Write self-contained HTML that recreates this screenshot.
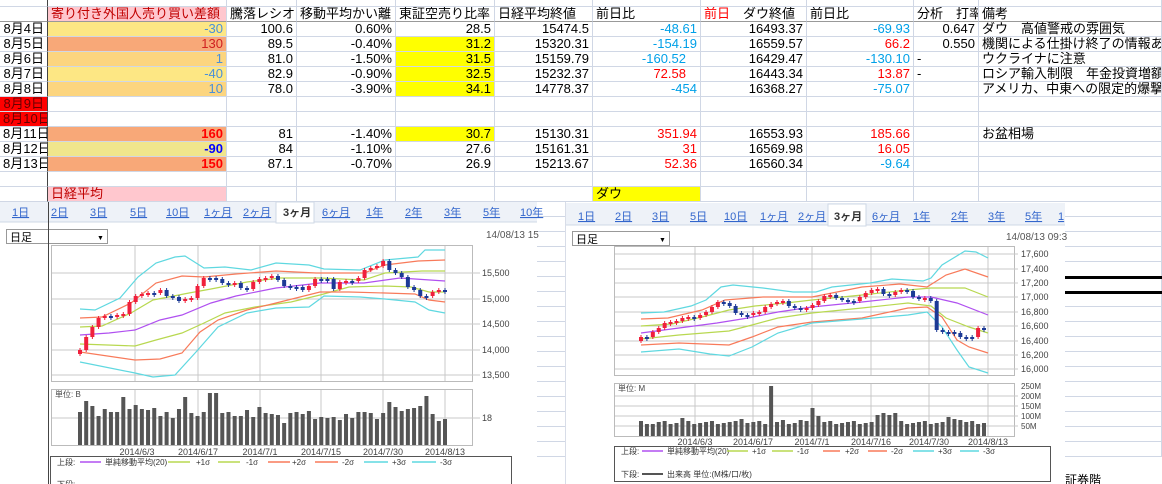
<!DOCTYPE html>
<html><head><meta charset="utf-8">
<style>
*{margin:0;padding:0}
body{width:1162px;height:484px;overflow:hidden;background:#fff;position:relative;font-family:"Liberation Sans","Noto Sans CJK JP",sans-serif}
table{position:absolute;left:0;top:0;border-collapse:separate;border-spacing:0;table-layout:fixed;width:1162px}
td{box-sizing:border-box;height:15px;border-right:1px solid #d0d7e5;border-bottom:1px solid #d0d7e5;padding:0 3px;overflow:hidden;white-space:nowrap;line-height:14px;font-size:13px;color:#000;text-align:right}
tr.top td{height:7px}
td.l{text-align:left}
td.a{border-right:1px solid #444}
tr.hd td{border-bottom:1px solid #999}
.pk{background:#ffc7ce;color:#c00000}
.yl{background:#ffff00}
.o1{background:#fde784}.o2{background:#f8a878}.o3{background:#fcd57f}.o4{background:#f0e68c}
.rd{background:#ff0000;color:#600}
.bl{color:#4a90d9}.br{color:#d02020}
.cy{color:#00a0e8}.re{color:#f00}
.b{font-weight:bold}
svg{position:absolute;left:0;top:0}
svg text{font-family:"Liberation Sans","Noto Sans CJK JP",sans-serif}
</style></head><body>
<table>
<colgroup><col style="width:48px"><col style="width:179px"><col style="width:70px"><col style="width:99px"><col style="width:99px"><col style="width:98px"><col style="width:108px"><col style="width:106px"><col style="width:107px"><col style="width:65px"><col style="width:183px"></colgroup>
<tr class="top"><td class="a"></td><td></td><td></td><td></td><td></td><td></td><td></td><td></td><td></td><td></td><td></td></tr>
<tr class="hd"><td class="a"></td><td class="l pk">寄り付き外国人売り買い差額</td><td class="l">騰落レシオ</td><td class="l">移動平均かい離</td><td class="l">東証空売り比率</td><td class="l">日経平均終値</td><td class="l">前日比</td><td class="l"><span style="color:#f00">前日</span>　ダウ終値</td><td class="l">前日比</td><td class="l">分析　打率</td><td class="l">備考</td></tr>
<tr><td class="a">8月4日</td><td class="o1 bl">-30</td><td>100.6</td><td>0.60%</td><td>28.5</td><td>15474.5</td><td class="cy">-48.61</td><td>16493.37</td><td class="cy">-69.93</td><td>0.647</td><td class="l">ダウ　高値警戒の雰囲気</td></tr>
<tr><td class="a">8月5日</td><td class="o2 br">130</td><td>89.5</td><td>-0.40%</td><td class="yl">31.2</td><td>15320.31</td><td class="cy">-154.19</td><td>16559.57</td><td class="re">66.2</td><td>0.550</td><td class="l">機関による仕掛け終了の情報あり。よ</td></tr>
<tr><td class="a">8月6日</td><td class="o3 bl">1</td><td>81.0</td><td>-1.50%</td><td class="yl">31.5</td><td>15159.79</td><td class="cy" style="padding-right:14px">-160.52</td><td>16429.47</td><td class="cy">-130.10</td><td class="l">-</td><td class="l">ウクライナに注意</td></tr>
<tr><td class="a">8月7日</td><td class="o1 bl">-40</td><td>82.9</td><td>-0.90%</td><td class="yl">32.5</td><td>15232.37</td><td class="re" style="padding-right:14px">72.58</td><td>16443.34</td><td class="re">13.87</td><td class="l">-</td><td class="l">ロシア輸入制限　年金投資増額の情</td></tr>
<tr><td class="a">8月8日</td><td class="o3 bl">10</td><td>78.0</td><td>-3.90%</td><td class="yl">34.1</td><td>14778.37</td><td class="cy">-454</td><td>16368.27</td><td class="cy">-75.07</td><td></td><td class="l">アメリカ、中東への限定的爆撃の承認</td></tr>
<tr><td class="a rd">8月9日</td><td></td><td></td><td></td><td></td><td></td><td></td><td></td><td></td><td></td><td></td></tr>
<tr><td class="a rd">8月10日</td><td></td><td></td><td></td><td></td><td></td><td></td><td></td><td></td><td></td><td></td></tr>
<tr><td class="a">8月11日</td><td class="o2 b" style="color:#f00">160</td><td>81</td><td>-1.40%</td><td class="yl">30.7</td><td>15130.31</td><td class="re">351.94</td><td>16553.93</td><td class="re">185.66</td><td></td><td class="l">お盆相場</td></tr>
<tr><td class="a">8月12日</td><td class="o4 b" style="color:#00f">-90</td><td>84</td><td>-1.10%</td><td>27.6</td><td>15161.31</td><td class="re">31</td><td>16569.98</td><td class="re">16.05</td><td></td><td></td></tr>
<tr><td class="a">8月13日</td><td class="o2 b" style="color:#f00">150</td><td>87.1</td><td>-0.70%</td><td>26.9</td><td>15213.67</td><td class="re">52.36</td><td>16560.34</td><td class="cy">-9.64</td><td></td><td></td></tr>
<tr><td class="a"></td><td></td><td></td><td></td><td></td><td></td><td></td><td></td><td></td><td></td><td></td></tr>
<tr><td class="a"></td><td class="l pk">日経平均</td><td></td><td></td><td></td><td></td><td class="l yl">ダウ</td><td></td><td></td><td></td><td></td></tr>
<tr><td class="a"></td><td></td><td></td><td></td><td></td><td></td><td></td><td></td><td></td><td></td><td></td></tr>
<tr><td class="a"></td><td></td><td></td><td></td><td></td><td></td><td></td><td></td><td></td><td></td><td></td></tr>
<tr><td class="a"></td><td></td><td></td><td></td><td></td><td></td><td></td><td></td><td></td><td></td><td></td></tr>
<tr><td class="a"></td><td></td><td></td><td></td><td></td><td></td><td></td><td></td><td></td><td></td><td></td></tr>
<tr><td class="a"></td><td></td><td></td><td></td><td></td><td></td><td></td><td></td><td></td><td></td><td></td></tr>
<tr><td class="a"></td><td></td><td></td><td></td><td></td><td></td><td></td><td></td><td></td><td></td><td></td></tr>
<tr><td class="a"></td><td></td><td></td><td></td><td></td><td></td><td></td><td></td><td></td><td></td><td></td></tr>
<tr><td class="a"></td><td></td><td></td><td></td><td></td><td></td><td></td><td></td><td></td><td></td><td></td></tr>
<tr><td class="a"></td><td></td><td></td><td></td><td></td><td></td><td></td><td></td><td></td><td></td><td></td></tr>
<tr><td class="a"></td><td></td><td></td><td></td><td></td><td></td><td></td><td></td><td></td><td></td><td></td></tr>
<tr><td class="a"></td><td></td><td></td><td></td><td></td><td></td><td></td><td></td><td></td><td></td><td></td></tr>
<tr><td class="a"></td><td></td><td></td><td></td><td></td><td></td><td></td><td></td><td></td><td></td><td></td></tr>
<tr><td class="a"></td><td></td><td></td><td></td><td></td><td></td><td></td><td></td><td></td><td></td><td></td></tr>
<tr><td class="a"></td><td></td><td></td><td></td><td></td><td></td><td></td><td></td><td></td><td></td><td></td></tr>
<tr><td class="a"></td><td></td><td></td><td></td><td></td><td></td><td></td><td></td><td></td><td></td><td></td></tr>
<tr><td class="a"></td><td></td><td></td><td></td><td></td><td></td><td></td><td></td><td></td><td></td><td></td></tr>
<tr><td class="a"></td><td></td><td></td><td></td><td></td><td></td><td></td><td></td><td></td><td></td><td></td></tr>
</table>

<svg width="1162" height="484" viewBox="0 0 1162 484" id="s">
<!-- LEFT widget -->
<rect x="0" y="202" width="537" height="282" fill="#fff"/>
<rect x="0" y="202" width="537" height="20" fill="#eef2f8"/>
<line x1="0" y1="222" x2="537" y2="222" stroke="#cfd8e6"/>
<rect x="276" y="202" width="38" height="21" fill="#fff" stroke="#cfd8e6"/>
<g font-size="11" fill="#3366cc" text-decoration="underline">
<text x="12" y="216">1日</text><text x="51" y="216">2日</text><text x="90" y="216">3日</text><text x="130" y="216">5日</text><text x="166" y="216">10日</text><text x="204" y="216">1ヶ月</text><text x="243" y="216">2ヶ月</text><text x="322" y="216">6ヶ月</text><text x="366" y="216">1年</text><text x="405" y="216">2年</text><text x="444" y="216">3年</text><text x="483" y="216">5年</text><text x="520" y="216">10年</text>
</g>
<text x="283" y="216" font-size="11" font-weight="bold" fill="#333">3ヶ月</text>
<rect x="6.5" y="229.5" width="101" height="14" fill="#fff" stroke="#999"/>
<text x="10" y="241" font-size="11">日足</text><text x="97" y="240" font-size="7">▼</text>
<text x="486" y="238" font-size="10" fill="#555">14/08/13 15</text>
<rect x="51.5" y="245.5" width="421" height="136" fill="#fff" stroke="#bbb"/>
<g stroke="#c8c8c8"><line x1="52" y1="273" x2="480" y2="273"/><line x1="52" y1="299" x2="480" y2="299"/><line x1="52" y1="324" x2="480" y2="324"/><line x1="52" y1="350" x2="480" y2="350"/><line x1="52" y1="375" x2="480" y2="375"/>
<line x1="135" y1="246" x2="135" y2="381"/><line x1="198" y1="246" x2="198" y2="381"/><line x1="260" y1="246" x2="260" y2="381"/><line x1="321" y1="246" x2="321" y2="381"/><line x1="383" y1="246" x2="383" y2="381"/><line x1="445" y1="246" x2="445" y2="381"/></g>
<g font-size="9" fill="#444"><text x="482" y="276">15,500</text><text x="482" y="302">15,000</text><text x="482" y="327">14,500</text><text x="482" y="353">14,000</text><text x="482" y="378">13,500</text></g>
<g fill="none" stroke-width="1.2">
<polyline stroke="#5fd8e0" points="80,309 95,310 120,298 138,277 156,263 175,257 185,256 204,268 225,267 251,270 276,263 309,265 324,269 360,270 385,260 418,257 425,250 445,250"/>
<polyline stroke="#f87a5a" points="80,318 102,317 131,303 156,283 182,276 204,277 236,274 276,271 316,273 364,273 385,265 418,261 445,260"/>
<polyline stroke="#b8d850" points="80,327 102,326 131,313 153,300 189,293 211,289 247,282 280,278 320,278 364,280 385,273 422,271 445,271"/>
<polyline stroke="#b050f0" points="80,335 109,333 135,330 160,320 182,315 211,303 236,296 276,288 320,283 364,283 400,278 445,281"/>
<polyline stroke="#b8d850" points="80,344 135,346 156,340 182,333 204,323 225,313 255,307 291,302 320,295 349,287 385,286 411,287 429,292 445,292"/>
<polyline stroke="#f87a5a" points="80,352 135,360 160,359 182,353 200,332 218,320 247,310 276,303 320,292 349,292 385,293 415,294 429,300 445,302"/>
<polyline stroke="#5fd8e0" points="80,362 135,373 153,377 175,375 196,352 218,327 247,313 276,308 309,307 324,296 360,297 385,299 415,302 429,310 445,313"/>
</g>
<g id="lc"></g>
<rect x="51.5" y="389.5" width="421" height="56" fill="none" stroke="#bbb"/>
<line x1="52" y1="418" x2="480" y2="418" stroke="#c8c8c8"/>
<g stroke="#c8c8c8"><line x1="135" y1="390" x2="135" y2="445"/><line x1="198" y1="390" x2="198" y2="445"/><line x1="260" y1="390" x2="260" y2="445"/><line x1="321" y1="390" x2="321" y2="445"/><line x1="383" y1="390" x2="383" y2="445"/><line x1="445" y1="390" x2="445" y2="445"/></g>
<text x="55" y="397" font-size="8" fill="#444">単位: B</text>
<text x="482" y="421" font-size="9" fill="#444">18</text>
<g id="lv"></g>
<g font-size="9" fill="#444" text-anchor="middle"><text x="137" y="455">2014/6/3</text><text x="198" y="455">2014/6/17</text><text x="260" y="455">2014/7/1</text><text x="321" y="455">2014/7/15</text><text x="383" y="455">2014/7/30</text><text x="445" y="455">2014/8/13</text></g>
<rect x="50.5" y="456.5" width="461" height="30" fill="#fff" stroke="#555"/>
<g font-size="8" fill="#333"><text x="57" y="465">上段:</text><text x="105" y="465">単純移動平均(20)</text><text x="196" y="465">+1σ</text><text x="246" y="465">-1σ</text><text x="292" y="465">+2σ</text><text x="342" y="465">-2σ</text><text x="392" y="465">+3σ</text><text x="440" y="465">-3σ</text><text x="57" y="487">下段:</text></g>
<g stroke-width="1.5"><line x1="80" y1="462" x2="101" y2="462" stroke="#b050f0"/><line x1="168" y1="462" x2="190" y2="462" stroke="#b8d850"/><line x1="218" y1="462" x2="240" y2="462" stroke="#b8d850"/><line x1="268" y1="462" x2="290" y2="462" stroke="#f87a5a"/><line x1="315" y1="462" x2="338" y2="462" stroke="#f87a5a"/><line x1="364" y1="462" x2="388" y2="462" stroke="#5fd8e0"/><line x1="412" y1="462" x2="436" y2="462" stroke="#5fd8e0"/></g>
<line x1="48.5" y1="202" x2="48.5" y2="484" stroke="#444"/>

<!-- RIGHT widget -->
<rect x="565" y="202" width="500" height="282" fill="#fff"/>
<line x1="565.5" y1="202" x2="565.5" y2="484" stroke="#d8dde8"/>
<rect x="566" y="203" width="499" height="22" fill="#eef2f8"/>
<line x1="566" y1="225" x2="1065" y2="225" stroke="#cfd8e6"/>
<rect x="828" y="204" width="38" height="22" fill="#fff" stroke="#cfd8e6"/>
<g font-size="11" fill="#3366cc" text-decoration="underline">
<text x="578" y="220">1日</text><text x="615" y="220">2日</text><text x="652" y="220">3日</text><text x="690" y="220">5日</text><text x="724" y="220">10日</text><text x="760" y="220">1ヶ月</text><text x="798" y="220">2ヶ月</text><text x="872" y="220">6ヶ月</text><text x="913" y="220">1年</text><text x="951" y="220">2年</text><text x="988" y="220">3年</text><text x="1025" y="220">5年</text><text x="1058" y="220">1</text>
</g>
<text x="834" y="220" font-size="11" font-weight="bold" fill="#333">3ヶ月</text>
<rect x="572.5" y="231.5" width="97" height="14" fill="#fff" stroke="#999"/>
<text x="576" y="243" font-size="11">日足</text><text x="659" y="242" font-size="7">▼</text>
<text x="1006" y="240" font-size="10" fill="#555">14/08/13 09:3</text>
<rect x="614.5" y="246.5" width="400" height="129" fill="#fff" stroke="#bbb"/>
<g stroke="#c8c8c8"><line x1="615" y1="254" x2="1018" y2="254"/><line x1="615" y1="269" x2="1018" y2="269"/><line x1="615" y1="283" x2="1018" y2="283"/><line x1="615" y1="297" x2="1018" y2="297"/><line x1="615" y1="312" x2="1018" y2="312"/><line x1="615" y1="326" x2="1018" y2="326"/><line x1="615" y1="341" x2="1018" y2="341"/><line x1="615" y1="355" x2="1018" y2="355"/><line x1="615" y1="369" x2="1018" y2="369"/>
<line x1="695" y1="247" x2="695" y2="375"/><line x1="753" y1="247" x2="753" y2="375"/><line x1="812" y1="247" x2="812" y2="375"/><line x1="871" y1="247" x2="871" y2="375"/><line x1="929" y1="247" x2="929" y2="375"/><line x1="988" y1="247" x2="988" y2="375"/></g>
<g font-size="9" fill="#444"><text x="1021" y="257">17,600</text><text x="1021" y="272">17,400</text><text x="1021" y="286">17,200</text><text x="1021" y="300">17,000</text><text x="1021" y="315">16,800</text><text x="1021" y="329">16,600</text><text x="1021" y="344">16,400</text><text x="1021" y="358">16,200</text><text x="1021" y="372">16,000</text></g>
<g fill="none" stroke-width="1.2">
<polyline stroke="#5fd8e0" points="641,313 664,312 691,306 706,300 721,287 733,285 763,288 793,292 816,292 832,287 870,283 892,279 923,281 931,278 942,265 965,251 976,252 988,258"/>
<polyline stroke="#f87a5a" points="641,319 668,318 702,310 725,300 763,297 812,297 862,287 900,284 927,287 946,275 965,269 988,277"/>
<polyline stroke="#b8d850" points="641,326 672,324 702,317 729,310 755,306 786,303 812,300 862,295 908,290 931,288 965,288 988,297"/>
<polyline stroke="#b050f0" points="641,333 679,328 717,323 748,318 778,312 812,307 862,302 908,297 931,297 957,303 988,315"/>
<polyline stroke="#b8d850" points="641,339 679,335 729,331 752,325 778,318 812,313 862,308 908,303 931,306 946,318 969,327 988,333"/>
<polyline stroke="#f87a5a" points="641,345 679,343 729,345 752,337 778,327 812,322 862,318 908,308 927,307 942,317 957,340 969,347 988,353"/>
<polyline stroke="#5fd8e0" points="641,352 679,349 710,354 729,356 752,347 778,333 812,323 862,319 908,315 927,312 942,327 957,350 969,367 988,373"/>
</g>
<g id="rc"></g>
<rect x="614.5" y="383.5" width="400" height="53" fill="none" stroke="#bbb"/>
<g stroke="#c8c8c8"><line x1="615" y1="396" x2="1018" y2="396"/><line x1="615" y1="406" x2="1018" y2="406"/><line x1="615" y1="416" x2="1018" y2="416"/><line x1="615" y1="426" x2="1018" y2="426"/>
<line x1="695" y1="384" x2="695" y2="436"/><line x1="753" y1="384" x2="753" y2="436"/><line x1="812" y1="384" x2="812" y2="436"/><line x1="871" y1="384" x2="871" y2="436"/><line x1="929" y1="384" x2="929" y2="436"/><line x1="988" y1="384" x2="988" y2="436"/></g>
<text x="618" y="391" font-size="8" fill="#444">単位: M</text>
<g font-size="8" fill="#444"><text x="1021" y="389">250M</text><text x="1021" y="399">200M</text><text x="1021" y="409">150M</text><text x="1021" y="419">100M</text><text x="1021" y="429">50M</text></g>
<g id="rv"></g>
<g font-size="9" fill="#444" text-anchor="middle"><text x="695" y="445">2014/6/3</text><text x="753" y="445">2014/6/17</text><text x="812" y="445">2014/7/1</text><text x="871" y="445">2014/7/16</text><text x="929" y="445">2014/7/30</text><text x="988" y="445">2014/8/13</text></g>
<rect x="614.5" y="446.5" width="436" height="35" fill="#fff" stroke="#555"/>
<g font-size="8" fill="#333"><text x="621" y="454">上段:</text><text x="667" y="454">単純移動平均(20)</text><text x="752" y="454">+1σ</text><text x="797" y="454">-1σ</text><text x="845" y="454">+2σ</text><text x="891" y="454">-2σ</text><text x="938" y="454">+3σ</text><text x="983" y="454">-3σ</text><text x="621" y="477">下段:</text><text x="667" y="477">出来高 単位:(M株/口/枚)</text></g>
<g stroke-width="1.5"><line x1="642" y1="451" x2="663" y2="451" stroke="#b050f0"/><line x1="727" y1="451" x2="748" y2="451" stroke="#b8d850"/><line x1="772" y1="451" x2="793" y2="451" stroke="#b8d850"/><line x1="823" y1="451" x2="840" y2="451" stroke="#f87a5a"/><line x1="868" y1="451" x2="887" y2="451" stroke="#f87a5a"/><line x1="913" y1="451" x2="934" y2="451" stroke="#5fd8e0"/><line x1="960" y1="451" x2="979" y2="451" stroke="#5fd8e0"/><line x1="642" y1="474" x2="663" y2="474" stroke="#555" stroke-width="2"/></g>
<rect x="1065" y="276" width="97" height="3" fill="#000"/>
<rect x="1065" y="291" width="97" height="3" fill="#000"/>
<text x="1065" y="484" font-size="12" fill="#000">証券階</text>
</svg>
<script>
(function(){
var NS="http://www.w3.org/2000/svg";
function el(g,t,a){var e=document.createElementNS(NS,t);for(var k in a)e.setAttribute(k,a[k]);g.appendChild(e);}
function candles(id,ys,x0,x1,w){var g=document.getElementById(id),n=ys.length,st=(x1-x0)/(n-1);
for(var i=0;i<n;i++){var x=x0+i*st,p=i?ys[i-1]:ys[i]+4,c=ys[i];var up=c<p;var top=Math.min(p,c),h=Math.max(2,Math.abs(p-c));
var col=up?"#f0203c":"#1c3a96";
el(g,"line",{x1:x,y1:top-2,x2:x,y2:top+h+2,stroke:col,"stroke-width":1});
el(g,"rect",{x:x-w/2,y:top,width:w,height:h,fill:col});}}
candles("lc",[350,337,327,318,316,316,315,314,302,296,294,293,293,290,296,297,301,299,298,286,278,278,279,283,284,283,288,289,282,279,278,276,280,286,287,287,290,286,279,279,279,289,282,281,281,278,270,268,266,261,270,273,277,287,290,296,296,292,290,290],80,445,4);
candles("rc",[337,337,332,328,323,322,321,318,317,318,315,312,307,302,303,306,313,315,315,313,312,307,304,302,301,306,308,309,308,305,301,296,295,298,300,301,301,297,293,290,289,294,295,292,290,291,297,299,298,301,330,332,332,333,337,337,337,328,328],641,984,4);
function vols(id,ts,x0,x1,b,w){var g=document.getElementById(id),n=ts.length,st=(x1-x0)/(n-1);
for(var i=0;i<n;i++)el(g,"rect",{x:x0+i*st-w/2,y:ts[i],width:w,height:b-ts[i],fill:"#555"});}
vols("lv",[412,401,406,416,409,412,412,397,409,405,409,410,408,416,412,418,409,397,413,416,412,393,393,413,412,416,416,410,417,407,413,414,415,423,413,412,414,411,419,417,418,417,420,414,418,412,412,413,419,413,402,407,411,409,408,406,396,414,421,419],80,445,445,4);
var r=[];for(var i=0;i<59;i++)r.push(421+((i*7)%4));
r[2]=424;r[7]=418;r[17]=419;r[22]=386;r[24]=420;r[27]=420;r[29]=408;r[30]=416;r[40]=415;r[41]=413;r[42]=415;r[43]=413;r[52]=417;r[53]=419;r[54]=420;
vols("rv",r,641,984,436,4);
})();
</script>
</body></html>
